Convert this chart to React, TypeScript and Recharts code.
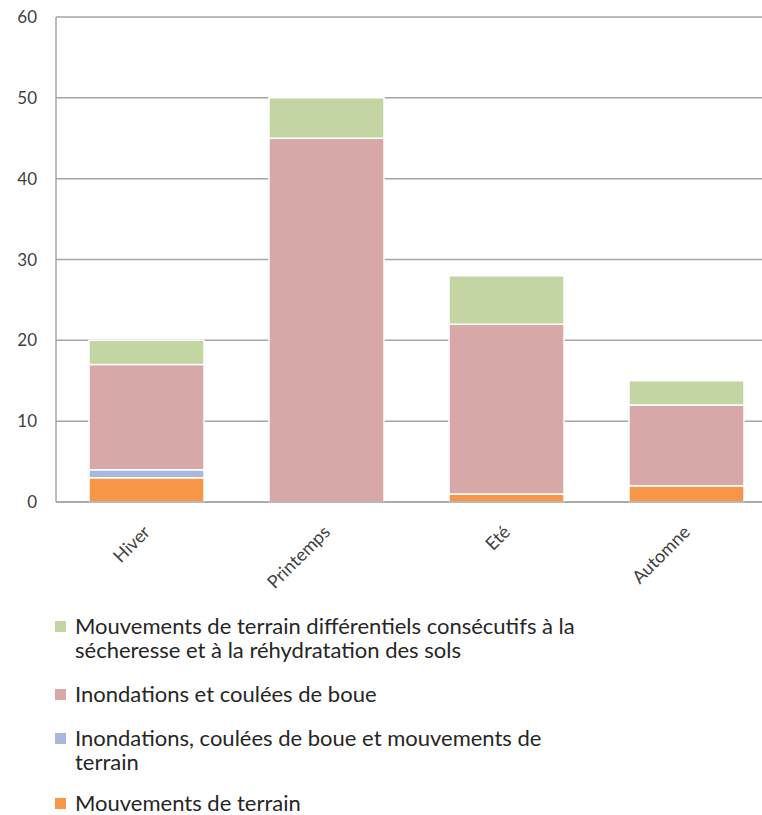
import React from 'react';
import { BarChart, Bar, XAxis, YAxis, CartesianGrid, Legend } from 'recharts';

const seasons = ['Hiver', 'Printemps', 'Eté', 'Automne'];
const mouvementsTerrain = [3, 0, 1, 2];
const inondationsEtMouvements = [1, 0, 0, 0];
const inondationsCoulees = [13, 45, 21, 10];
const secheresseSols = [3, 5, 6, 3];
const yTicks = [0, 10, 20, 30, 40, 50, 60];

// stacked bottom to top
const series = [
  { key: 'mouvements', name: 'Mouvements de terrain', color: '#f79646', values: mouvementsTerrain },
  { key: 'mixte', name: 'Inondations, coulées de boue et mouvements de terrain', color: '#a7b9da', values: inondationsEtMouvements },
  { key: 'inondations', name: 'Inondations et coulées de boue', color: '#d8a7a8', values: inondationsCoulees },
  { key: 'secheresse', name: 'Mouvements de terrain différentiels consécutifs à la sécheresse et à la réhydratation des sols', color: '#c3d5a3', values: secheresseSols },
];

const chartData = seasons.map((season, i) => {
  const row: Record<string, string | number> = { season };
  series.forEach((s) => {
    row[s.key] = s.values[i];
  });
  return row;
});

const textColor = '#404040';
const gridColor = '#a6a6a6';

const SeasonTick = ({ x, y, payload }: any) => (
  <g transform={`translate(${x + 1},${y + 19})`}>
    <text textAnchor="end" transform="rotate(-45)" fontSize={18} fill={textColor} dy={6}>
      {payload.value}
    </text>
  </g>
);

const LegendBlock = () => (
  <div style={{ width: 600, fontFamily: 'Lato', fontSize: 22, color: '#262626', lineHeight: '24px' }}>
    {[...series].reverse().map((s, i, arr) => (
      <div
        key={s.key}
        style={{ display: 'flex', alignItems: 'flex-start', marginBottom: i < arr.length - 1 ? (i === arr.length - 2 ? 17 : 20) : 0 }}
      >
        <span style={{ display: 'inline-block', width: 11, height: 11, background: s.color, marginTop: 7, marginRight: 9, flexShrink: 0 }} />
        <span style={{ maxWidth: 520 }}>{s.name}</span>
      </div>
    ))}
  </div>
);

export default function App() {
  return (
    <div style={{ position: 'absolute', left: 0, top: 0, width: 762, height: 815, overflow: 'hidden', background: '#fff' }}>
      <BarChart
        width={776}
        height={815}
        data={chartData}
        margin={{ top: 17, right: 0, left: 0, bottom: 253 }}
        barSize={115}
        style={{ fontFamily: 'Lato', overflow: 'visible' }}
      >
        <CartesianGrid vertical={false} stroke={gridColor} strokeWidth={1.5} />
        <XAxis
          dataKey="season"
          height={60}
          tickLine={false}
          axisLine={{ stroke: gridColor, strokeWidth: 1.5 }}
          interval={0}
          tick={<SeasonTick />}
        />
        <YAxis
          width={56}
          domain={[0, 60]}
          ticks={yTicks}
          tickLine={false}
          tickMargin={13}
          axisLine={{ stroke: gridColor, strokeWidth: 1.5 }}
          tick={{ fill: textColor, fontSize: 17 }}
        />
        {series.map((s) => (
          <Bar
            key={s.key}
            dataKey={s.key}
            name={s.name}
            stackId="total"
            fill={s.color}
            stroke="#ffffff"
            strokeWidth={1.5}
            isAnimationActive={false}
          />
        ))}
        <Legend
          layout="vertical"
          align="center"
          verticalAlign="middle"
          wrapperStyle={{ top: 614, left: 55, height: 'auto', overflow: 'visible' }}
          content={<LegendBlock />}
        />
      </BarChart>
    </div>
  );
}
